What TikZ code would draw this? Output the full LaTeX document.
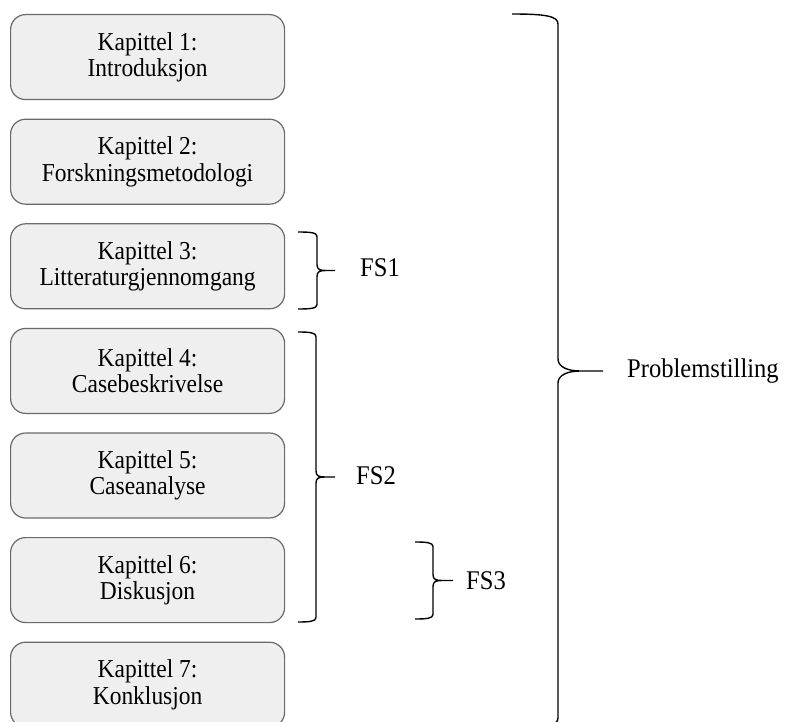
\documentclass[tikz,border=0pt]{standalone}
\usepackage{fontspec}
\setmainfont[FakeStretch=0.91]{Liberation Serif}
\usetikzlibrary{calc}
\definecolor{boxfill}{HTML}{EFEFEF}
\definecolor{boxline}{HTML}{6A6A6A}

% Right-hand curly bracket: #1 free-end x, #2 spine x, #3 tip x,
% #4 top y, #5 bottom y, #6 tip y
\newcommand\rbracketpath[6]{%
  (#1,#4) .. controls ({#2-7},#4) and (#2,{#4+0.5}) .. (#2,{#4+4.5})
  -- (#2,{#6-6}) .. controls (#2,{#6-1}) and ({#2+3},#6) .. ({#2+9},#6) -- (#3,#6)
  ({#2+9},#6) .. controls ({#2+3},#6) and (#2,{#6+1}) .. (#2,{#6+6})
  -- (#2,{#5-4.5}) .. controls (#2,{#5-0.5}) and ({#2-7},#5) .. (#1,#5)}

\begin{document}
\begin{tikzpicture}[x=1pt,y=-1pt,
  chapter/.style={draw=boxline, fill=boxfill, line width=1.2pt,
    rounded corners=15pt, minimum width=274pt, minimum height=85pt,
    inner sep=0pt, align=center, anchor=north west,
    font=\fontsize{25.8}{26.5}\selectfont},
  bracket/.style={draw=black, line width=1.4pt, line join=round},
  tag/.style={anchor=base west, inner sep=0pt,
    font=\fontsize{27}{30}\selectfont}]

\useasboundingbox (0,0) rectangle (785,722);
\clip (0,0) rectangle (785,722);

% chapter boxes
\node[chapter] (k1) at (10,14)    {Kapittel 1:\\Introduksjon};
\node[chapter] (k2) at (10,118.6) {Kapittel 2:\\Forskningsmetodologi};
\node[chapter] (k3) at (10,223.2) {Kapittel 3:\\Litteraturgjennomgang};
\node[chapter] (k4) at (10,327.8) {Kapittel 4:\\Casebeskrivelse};
\node[chapter] (k5) at (10,432.4) {Kapittel 5:\\Caseanalyse};
\node[chapter] (k6) at (10,537)   {Kapittel 6:\\Diskusjon};
\node[chapter] (k7) at (10,641.6) {Kapittel 7:\\Konklusjon};

% bracket tips
\coordinate (fs1tip) at (335,270.5);
\coordinate (fs2tip) at (335,477);
\coordinate (fs3tip) at (453,580.5);
\coordinate (pstip)  at (603,371);

% brackets
\draw[bracket] \rbracketpath{298}{317}{335}{232}{309}{270.5};
\draw[bracket] \rbracketpath{298}{316}{335}{332}{622}{477};
\draw[bracket] \rbracketpath{415}{433}{453}{542}{619}{580.5};

% large bracket spanning all chapters
\draw[bracket]
  (512,14) .. controls (545,14) and (558,16) .. (558,24)
  -- (558,359) .. controls (558,367) and (568,371) .. (580,371) -- (pstip)
  (580,371) .. controls (568,371) and (558,375) .. (558,383)
  -- (558,718) .. controls (558,726) and (545,728) .. (512,728);

% bracket labels
\node[tag] (fs1) at ($(fs1tip)+(25,6)$) {FS1};
\node[tag] (fs2) at ($(fs2tip)+(21,7)$) {FS2};
\node[tag] (fs3) at ($(fs3tip)+(13,9)$) {FS3};
\node[tag] (ps)  at ($(pstip)+(24,6)$)  {Problemstilling};
\end{tikzpicture}
\end{document}
